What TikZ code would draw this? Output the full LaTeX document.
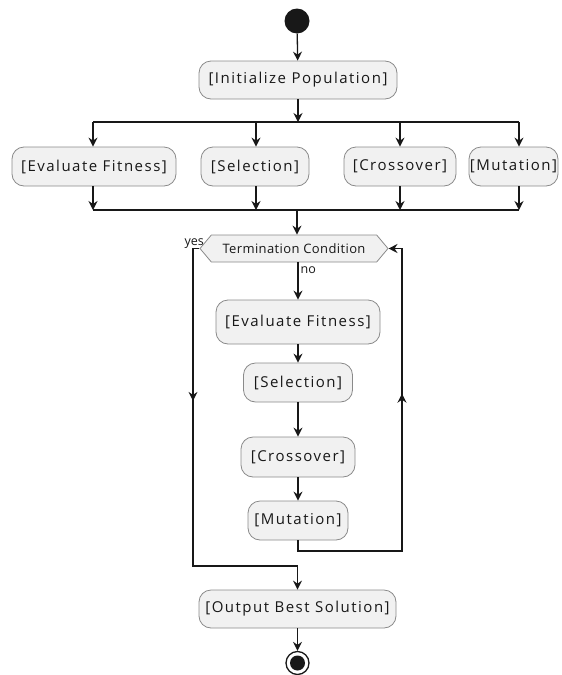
\documentclass[tikz,border=0pt]{standalone}
\usepackage{fontspec}
\setmainfont{Open Sans}
\newfontfamily\boxfont[LetterSpace=10]{Open Sans}
\newfontfamily\hexfont[LetterSpace=3]{Open Sans}
\usetikzlibrary{arrows.meta,shapes.symbols,decorations.markings}
\definecolor{boxfill}{HTML}{F1F1F1}
\definecolor{boxline}{HTML}{8A8A8A}
\definecolor{ink}{HTML}{181818}
\tikzset{
  act/.style={draw=boxline, fill=boxfill, rounded corners=12pt, line width=0.8pt,
    minimum height=38pt, inner sep=0pt, text=ink, font=\boxfont\fontsize{15}{17}\selectfont},
  flow/.style={draw=ink, line width=1.3pt, -{Stealth[length=9pt,width=9pt,inset=3pt]}},
  plain/.style={draw=ink, line width=1.3pt},
  bar/.style={draw=ink, line width=2pt},
  midup/.style={postaction={decorate}, decoration={markings, mark=at position #1 with {\arrow{Stealth[length=9pt,width=9pt,inset=3pt]}}}},
}
\begin{document}
\begin{tikzpicture}[x=1pt,y=-1pt]
\useasboundingbox (0,0) rectangle (562,675);
% start
\node[circle, fill=ink, minimum size=25pt, inner sep=0pt] (start) at (297,21) {};
\node[act, minimum width=198pt] (init) at (298,80) {[Initialize Population]};
% fork
\coordinate (fL) at (93,122); \coordinate (fR) at (519,122); \coordinate (fC) at (298,122);
\coordinate (f1) at (93,122); \coordinate (f2) at (256,122); \coordinate (f3) at (400,122); \coordinate (f4) at (519,122);
\node[act, minimum width=164pt, minimum height=39pt] (p1) at (94,166.5) {[Evaluate Fitness]};
\node[act, minimum width=108pt, minimum height=39pt] (p2) at (255,166.5) {[Selection]};
\node[act, minimum width=112pt, minimum height=39pt] (p3) at (400,166.5) {[Crossover]};
\node[act, minimum width=89pt, minimum height=39pt] (p4) at (513.5,166.5) {[Mutation]};
\coordinate (j1) at (93,210); \coordinate (j2) at (256,210); \coordinate (j3) at (400,210); \coordinate (j4) at (519,210);
\coordinate (jC) at (297,210);
\draw[bar] (fL) -- (fR);
\draw[bar] (j1) -- (j4);
\draw[flow] (start) -- (init);
\draw[flow] (init) -- (fC);
\foreach \i in {1,...,4} { \draw[flow] (f\i) -- (f\i |- p\i.north); }
\foreach \i in {1,...,4} { \draw[flow] (j\i |- p\i.south) -- (j\i); }
% decision
\node[signal, signal to=east and west, signal pointer angle=100, draw=boxline, fill=boxfill,
  line width=0.8pt, minimum width=188pt, minimum height=27pt, inner sep=0pt, text=ink,
  font=\hexfont\fontsize{13}{15}\selectfont] (hex) at (294,248.5) {Termination Condition};
\draw[flow] (jC) -- (jC |- hex.north);
\node[act, minimum width=164pt, minimum height=44pt] (e2) at (298,322) {[Evaluate Fitness]};
\node[act, minimum width=109pt, minimum height=39pt] (s2) at (298,382.5) {[Selection]};
\node[act, minimum width=114pt, minimum height=40pt] (c2) at (298,457) {[Crossover]};
\node[act, minimum width=100pt, minimum height=39pt] (m2) at (298,520.5) {[Mutation]};
\node[act, minimum width=197pt, minimum height=38pt] (out) at (297.5,609) {[Output Best Solution]};
\draw[flow] (hex.south -| e2.north) -- (e2.north)
  node[pos=0.2, right, inner sep=2pt, text=ink, font=\fontsize{12.5}{13}\selectfont] {no};
\draw[flow] (e2) -- (s2);
\draw[flow] (s2) -- (c2);
\draw[flow] (c2) -- (m2);
% loop back
\coordinate (lb) at (298,551); \coordinate (lr) at (402,551); \coordinate (lt) at (402,248.5);
\draw[flow] (m2.south) -- (lb) -- (lr) -- (lt) -- (hex.east);
\draw[plain, midup=0.52] (lr) -- (lt);
% yes branch
\coordinate (yt) at (193,248.5); \coordinate (yb) at (193,566); \coordinate (yr) at (297.5,566);
\node[anchor=south east, inner sep=1pt, text=ink, font=\fontsize{12.5}{13}\selectfont] (yes) at (205,250) {yes};
\draw[flow] (hex.west) -- (yt) -- (yb) -- (yr) -- (out.north);
\draw[plain, midup=0.48] (yt) -- (yb);
% end
\node[circle, draw=ink, line width=1.3pt, minimum size=23pt, inner sep=0pt] (end) at (297.5,663) {};
\node[circle, fill=ink, minimum size=15pt, inner sep=0pt] (endin) at (297.5,663) {};
\draw[flow] (out) -- (end);
\end{tikzpicture}
\end{document}
